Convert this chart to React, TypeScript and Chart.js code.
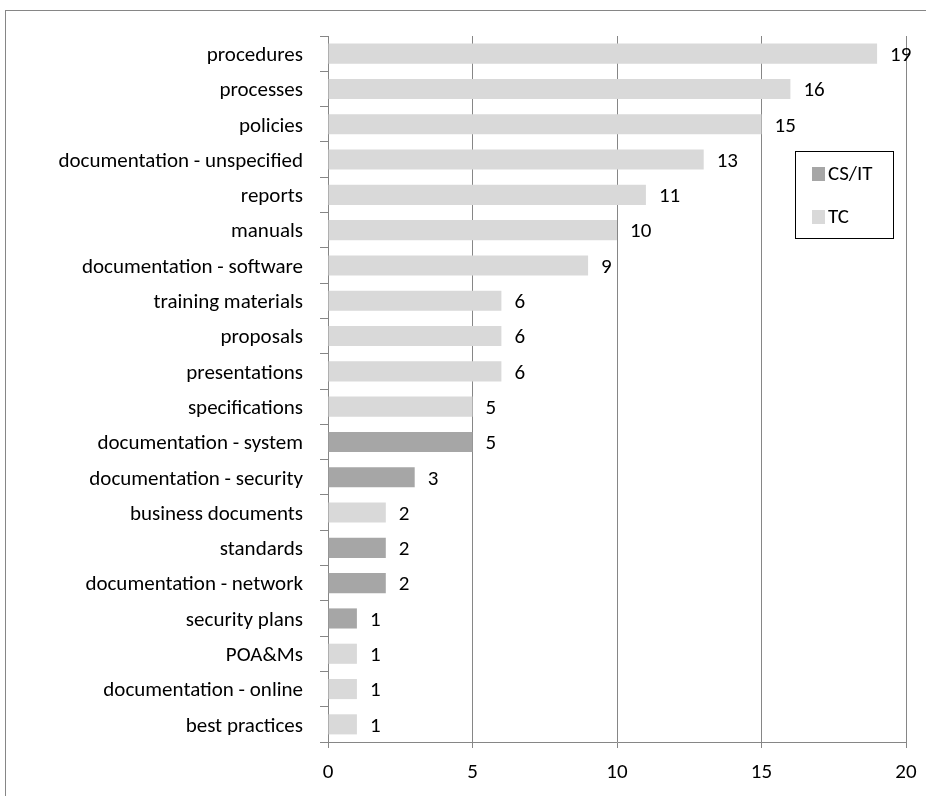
import React, { useEffect, useRef } from "react";
import { Chart, registerables } from "chart.js";

Chart.register(...registerables);

const categories = [
  "procedures",
  "processes",
  "policies",
  "documentation - unspecified",
  "reports",
  "manuals",
  "documentation - software",
  "training materials",
  "proposals",
  "presentations",
  "specifications",
  "documentation - system",
  "documentation - security",
  "business documents",
  "standards",
  "documentation - network",
  "security plans",
  "POA&Ms",
  "documentation - online",
  "best practices",
];

const csItValues: (number | null)[] = [
  null, null, null, null, null, null, null, null, null, null,
  null, 5, 3, null, 2, 2, 1, null, null, null,
];

const tcValues: (number | null)[] = [
  19, 16, 15, 13, 11, 10, 9, 6, 6, 6,
  5, null, null, 2, null, null, null, 1, 1, 1,
];

const xTicks = [0, 5, 10, 15, 20];

const FONT = "Carlito, 'Liberation Sans Narrow', 'DejaVu Sans Condensed', sans-serif";
const FONT_SIZE = 21;

const framePlugin = {
  id: "frame",
  beforeDraw(chart: any) {
    const ctx = chart.ctx;
    ctx.save();
    ctx.fillStyle = "#ffffff";
    ctx.fillRect(0, 0, chart.width, chart.height);
    ctx.strokeStyle = "#868686";
    ctx.lineWidth = 1;
    ctx.strokeRect(5.5, 10.5, 1000, 1000);
    ctx.restore();
  },
};

const valueLabelPlugin = {
  id: "valueLabels",
  afterDatasetsDraw(chart: any) {
    const ctx = chart.ctx;
    ctx.save();
    ctx.font = `${FONT_SIZE}px ${FONT}`;
    ctx.fillStyle = "#000000";
    ctx.textAlign = "left";
    ctx.textBaseline = "middle";
    chart.data.datasets.forEach((ds: any, di: number) => {
      const meta = chart.getDatasetMeta(di);
      meta.data.forEach((bar: any, i: number) => {
        const v = ds.data[i];
        if (v === null || v === undefined) return;
        ctx.fillText(String(v), bar.x + 13, bar.y + 2);
      });
    });
    ctx.restore();
  },
};

const legendBoxPlugin = {
  id: "legendBox",
  afterDraw(chart: any) {
    const ctx = chart.ctx;
    ctx.save();
    ctx.strokeStyle = "#000000";
    ctx.lineWidth = 1;
    ctx.fillStyle = "#ffffff";
    ctx.fillRect(795.5, 151.5, 98, 87);
    ctx.strokeRect(795.5, 151.5, 98, 87);
    ctx.font = `${FONT_SIZE}px ${FONT}`;
    ctx.textAlign = "left";
    ctx.textBaseline = "middle";
    const rows = [
      { ds: chart.data.datasets[0], y: 174 },
      { ds: chart.data.datasets[1], y: 217 },
    ];
    rows.forEach((r) => {
      ctx.fillStyle = r.ds.backgroundColor;
      ctx.fillRect(812, r.y - 7, 13, 14);
      ctx.fillStyle = "#000000";
      ctx.fillText(r.ds.label, 828, r.y + 1);
    });
    ctx.restore();
  },
};

export default function App() {
  const ref = useRef<HTMLCanvasElement>(null);

  useEffect(() => {
    if (!ref.current) return;
    const chart = new Chart(ref.current, {
      type: "bar",
      data: {
        labels: categories,
        datasets: [
          {
            label: "CS/IT",
            data: csItValues,
            backgroundColor: "#a6a6a6",
            barPercentage: 0.57,
            categoryPercentage: 1,
          },
          {
            label: "TC",
            data: tcValues,
            backgroundColor: "#d9d9d9",
            barPercentage: 0.57,
            categoryPercentage: 1,
          },
        ],
      },
      options: {
        indexAxis: "y",
        responsive: false,
        animation: false,
        layout: { padding: { left: 0, top: 36, right: 20, bottom: 0 } },
        plugins: {
          legend: { display: false },
          tooltip: { enabled: false },
        },
        scales: {
          x: {
            min: 0,
            max: 20,
            afterBuildTicks(scale: any) {
              scale.ticks = xTicks.map((v) => ({ value: v }));
            },
            afterFit(scale: any) {
              scale.height = 54;
              scale.paddingLeft = 0;
              scale.paddingRight = 0;
            },
            grid: {
              color: "#868686",
              drawTicks: true,
              tickLength: 6,
              tickColor: "#868686",
            },
            border: { color: "#868686" },
            ticks: {
              color: "#000000",
              font: { size: FONT_SIZE, family: FONT },
              padding: 12,
              maxRotation: 0,
            },
          },
          y: {
            stacked: true,
            afterFit(scale: any) {
              scale.width = 328;
            },
            grid: {
              drawOnChartArea: false,
              drawTicks: true,
              tickLength: 8,
              tickColor: "#868686",
              offset: true,
            },
            border: { color: "#868686" },
            ticks: {
              color: "#000000",
              font: { size: FONT_SIZE, family: FONT },
              padding: 17,
              labelOffset: 2,
              autoSkip: false,
            },
          },
        },
      },
      plugins: [framePlugin, valueLabelPlugin, legendBoxPlugin],
    });
    return () => chart.destroy();
  }, []);

  return (
    <div style={{ position: "fixed", left: 0, top: 0, width: 926, height: 796, background: "#fff" }}>
      <canvas ref={ref} width={926} height={796} />
    </div>
  );
}
